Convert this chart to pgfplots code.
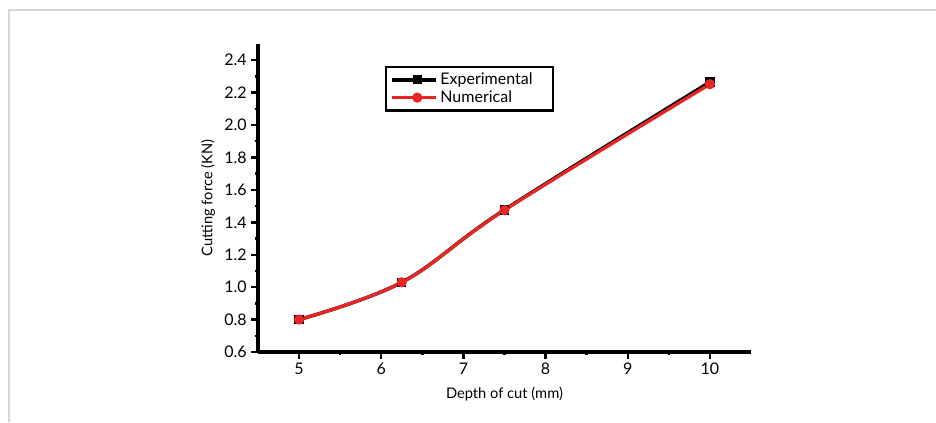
\documentclass[border=0pt]{standalone}
\usepackage{fontspec}
\setmainfont{Lato}
\usepackage{pgfplots}
\pgfplotsset{compat=1.18}
\definecolor{numred}{RGB}{232,38,38}
\definecolor{framegray}{RGB}{215,215,215}

\begin{document}
\begin{tikzpicture}
  \useasboundingbox (0,0) rectangle (702pt,316.5pt);
  % light page frame, top and left only
  \draw[framegray, line width=1.5pt] (6.75pt,0) -- (6.75pt,309pt) -- (702pt,309pt);
  \begin{axis}[
    at={(193.5pt,52.5pt)}, anchor=south west,
    scale only axis,
    width=369.75pt, height=231pt,
    xmin=4.5, xmax=10.5, ymin=0.6, ymax=2.5,
    axis lines=left,
    axis line style={line width=2.6pt, -},
    xtick={5,6,7,8,9,10},
    ytick={0.6,0.8,...,2.41},
    minor x tick num=1, minor y tick num=1,
    tick align=outside,
    major tick length=5pt, minor tick length=2.5pt,
    every tick/.style={black, line width=1.8pt},
    yticklabel style={/pgf/number format/fixed, /pgf/number format/fixed zerofill, /pgf/number format/precision=1},
    /pgf/number format/assume math mode=true,
    tick label style={font=\fontsize{12}{14}\selectfont},
    label style={font=\fontsize{11}{13}\selectfont},
    xlabel={Depth of cut (mm)},
    ylabel={Cutting force (KN)},
    xlabel style={yshift=-2pt},
    legend style={at={(0.258,0.929)}, anchor=north west, draw=black, line width=1.6pt,
      font=\fontsize{12}{14}\selectfont, inner xsep=3pt, inner ysep=2.5pt,
      row sep=-1pt, cells={anchor=west}},
    legend image code/.code={
      \draw[#1, line width=2.6pt] (0pt,0pt) -- (33pt,0pt);
      \draw[#1, only marks] plot coordinates {(19pt,0pt)};
    },
  ]
  \addplot[black, line width=2.6pt, smooth, tension=0.6, mark=square*, mark size=3pt,
    mark options={solid, fill=black, line width=1pt}]
    coordinates {(5,0.80) (6.25,1.03) (7.5,1.477) (10,2.265)};
  \addlegendentry{Experimental\rule{10pt}{0pt}}
  \addplot[numred, line width=2.4pt, smooth, tension=0.6, mark=*, mark size=3.3pt,
    mark options={solid, fill=numred, line width=1pt}]
    coordinates {(5,0.80) (6.25,1.03) (7.5,1.475) (10,2.252)};
  \addlegendentry{Numerical}
  \end{axis}
\end{tikzpicture}
\end{document}
